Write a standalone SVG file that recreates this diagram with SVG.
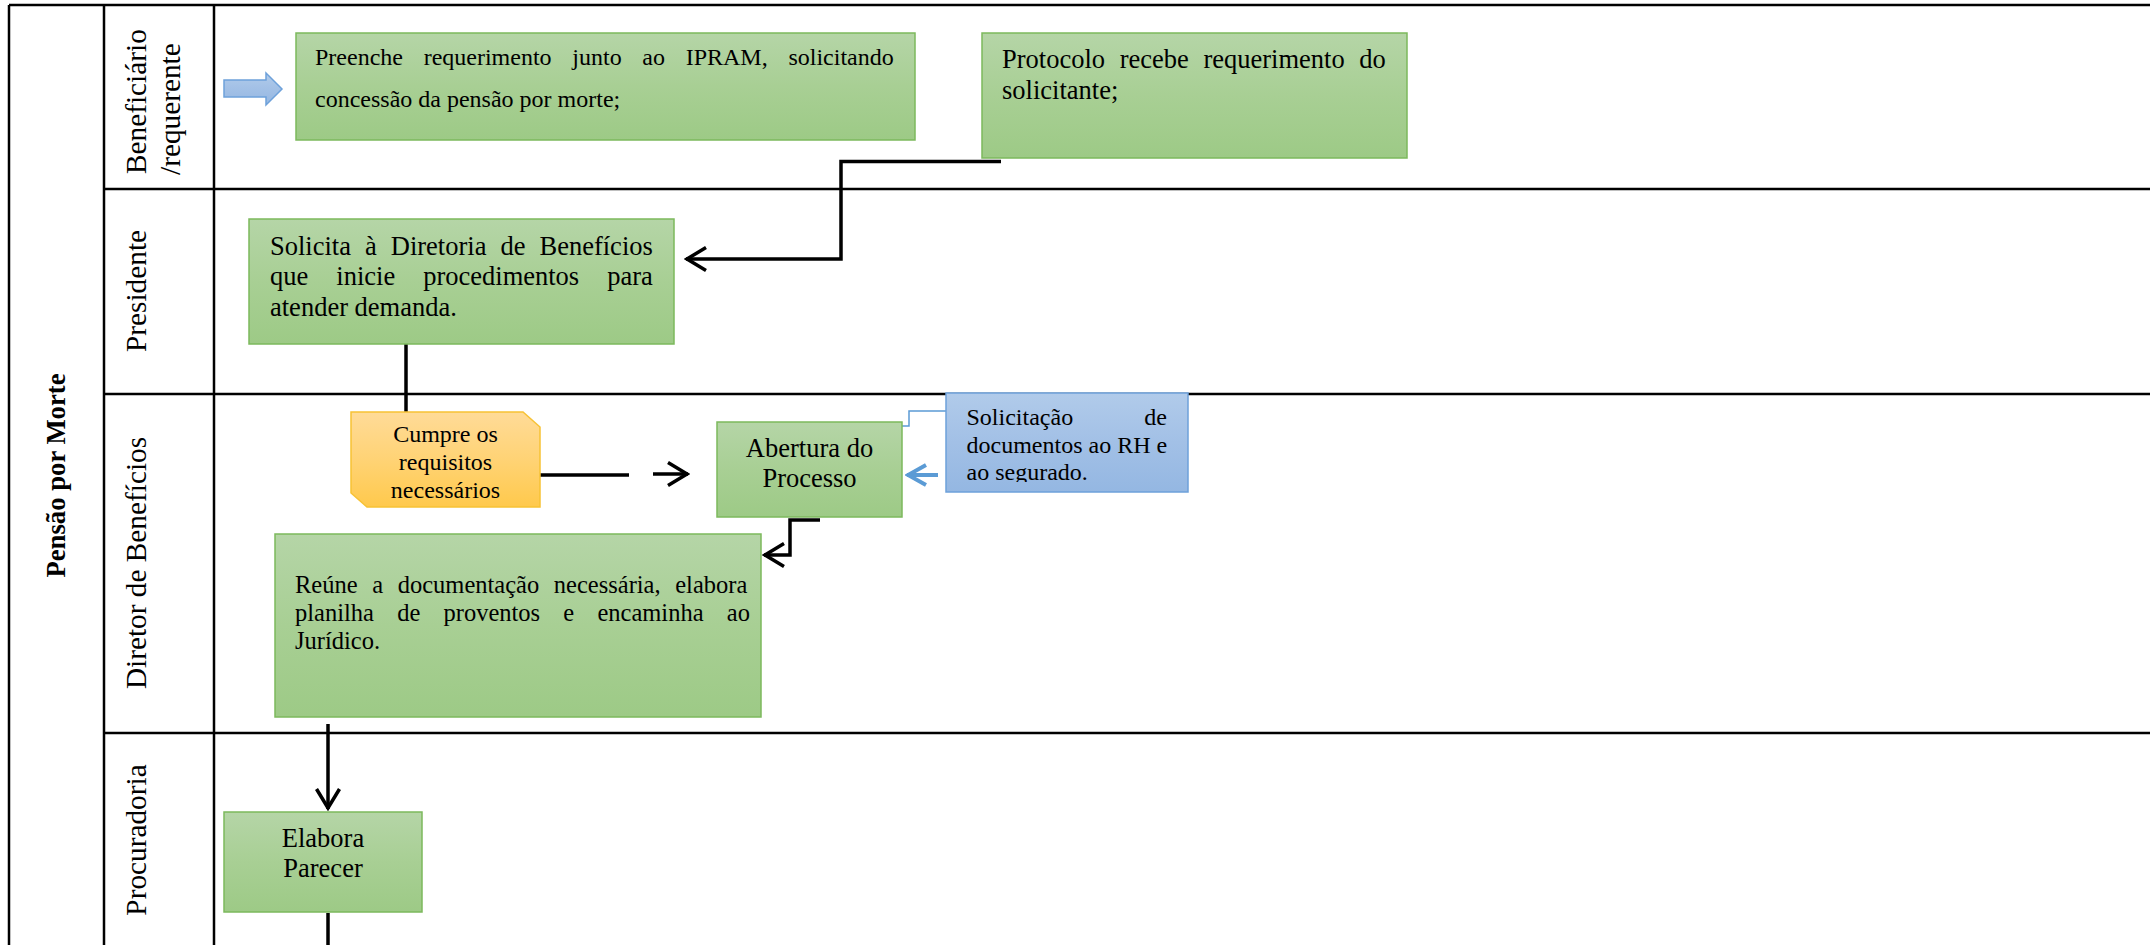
<svg xmlns="http://www.w3.org/2000/svg" width="2150" height="945" viewBox="0 0 2150 945">
  <style>
    .lane { stroke: #000; stroke-width: 2.5; fill: none; }
    .lbl { font-family: "Liberation Serif", "Times New Roman", serif; font-size: 29.3px; fill: #000; }
    .title { font-family: "Liberation Serif", "Times New Roman", serif; font-size: 26.7px; font-weight: bold; fill: #000; }
    .t24 { font-family: "Liberation Serif", "Times New Roman", serif; font-size: 24px; fill: #000; }
    .t26 { font-family: "Liberation Serif", "Times New Roman", serif; font-size: 26.5px; fill: #000; }
    .t245 { font-family: "Liberation Serif", "Times New Roman", serif; font-size: 24.5px; fill: #000; }
    .green { fill: url(#gGreen); stroke: #7cb95c; stroke-width: 1.5; }
    .orange { fill: url(#gOrange); stroke: #f7c235; stroke-width: 1.5; }
    .blue { fill: url(#gBlue); stroke: #6ea1da; stroke-width: 1.5; }
    .conn { stroke: #000; stroke-width: 3.5; fill: none; }
    .connBlue { stroke: #5b9bd5; stroke-width: 4; fill: none; }
    .connThin { stroke: #5b9bd5; stroke-width: 1.5; fill: none; }
  </style>
  <defs>
    <linearGradient id="gGreen" x1="0" y1="0" x2="0" y2="1">
      <stop offset="0" stop-color="#b5d5a7"/>
      <stop offset="0.5" stop-color="#a8cf94"/>
      <stop offset="1" stop-color="#9dca86"/>
    </linearGradient>
    <linearGradient id="gOrange" x1="0" y1="0" x2="0" y2="1">
      <stop offset="0" stop-color="#ffdb98"/>
      <stop offset="0.5" stop-color="#ffd375"/>
      <stop offset="1" stop-color="#ffc94c"/>
    </linearGradient>
    <linearGradient id="gBlue" x1="0" y1="0" x2="0" y2="1">
      <stop offset="0" stop-color="#b1cbea"/>
      <stop offset="0.5" stop-color="#a2c0e6"/>
      <stop offset="1" stop-color="#94b7e2"/>
    </linearGradient>
    <marker id="arrowBlack" markerUnits="userSpaceOnUse" viewBox="0 0 24 26" refX="22" refY="13" markerWidth="24" markerHeight="26" orient="auto">
      <path d="M2,1.5 L21,13 L2,24.5" fill="none" stroke="#000" stroke-width="3.5"/>
    </marker>
    <marker id="arrowBlue" markerUnits="userSpaceOnUse" viewBox="0 0 24 26" refX="22" refY="13" markerWidth="24" markerHeight="26" orient="auto">
      <path d="M3,3 L21,13 L3,23" fill="none" stroke="#5b9bd5" stroke-width="4"/>
    </marker>
    <clipPath id="clipSolic">
      <rect x="946" y="393" width="242" height="89"/>
    </clipPath>
  </defs>

  <rect width="2150" height="945" fill="#fff"/>

  <!-- pool and lane grid -->
  <g id="lanes">
    <line class="lane" x1="9" y1="5" x2="2150" y2="5"/>
    <line class="lane" x1="9" y1="5" x2="9" y2="945"/>
    <line class="lane" x1="104" y1="5" x2="104" y2="945"/>
    <line class="lane" x1="214" y1="5" x2="214" y2="945"/>
    <line class="lane" x1="104" y1="189" x2="2150" y2="189"/>
    <line class="lane" x1="104" y1="394" x2="2150" y2="394"/>
    <line class="lane" x1="104" y1="733" x2="2150" y2="733"/>
    <text class="title" text-anchor="middle" transform="translate(65,475.5) rotate(-90)">Pensão por Morte</text>
    <text class="lbl" transform="translate(146,174) rotate(-90)">Beneficiário</text>
    <text class="lbl" transform="translate(180,175) rotate(-90)">/requerente</text>
    <text class="lbl" text-anchor="middle" transform="translate(145.5,291) rotate(-90)">Presidente</text>
    <text class="lbl" text-anchor="middle" transform="translate(145.5,563) rotate(-90)">Diretor de Benefícios</text>
    <text class="lbl" text-anchor="middle" transform="translate(145.5,840) rotate(-90)">Procuradoria</text>
  </g>

  <!-- connectors -->
  <g id="connectors">
    <path class="conn" d="M1001,161.5 H841 V259 H686" marker-end="url(#arrowBlack)"/>
    <path class="conn" d="M406,344 V412"/>
    <path class="conn" d="M540,475 H629"/>
    <path class="conn" d="M653,474 H688" marker-end="url(#arrowBlack)"/>
    <path class="connThin" d="M946,411 H909 V426 H821"/>
    <path class="connBlue" d="M938,475 H907" marker-end="url(#arrowBlue)"/>
    <path class="conn" d="M820,520 H790 V555 H764" marker-end="url(#arrowBlack)"/>
    <path class="conn" d="M328,724 V809" marker-end="url(#arrowBlack)"/>
    <path class="conn" d="M328,913 V945"/>
  </g>

  <!-- start marker -->
  <g id="start-arrow">
    <polygon class="blue" points="224,80 266,80 266,73 282,89 266,105 266,97 224,97" stroke="#6d9ddb"/>
  </g>

  <g id="preenche">
    <rect class="green" x="296" y="33" width="619" height="107"/>
    <text class="t24" x="315" y="65" word-spacing="14.7">Preenche requerimento junto ao IPRAM, solicitando</text>
    <text class="t24" x="315" y="107">concessão da pensão por morte;</text>
  </g>

  <g id="protocolo">
    <rect class="green" x="982" y="33" width="425" height="125"/>
    <text class="t26" x="1002" y="68" word-spacing="8">Protocolo recebe requerimento do</text>
    <text class="t26" x="1002" y="98.5">solicitante;</text>
  </g>

  <g id="solicita">
    <rect class="green" x="249" y="219" width="425" height="125"/>
    <text class="t26" x="270" y="254.5" word-spacing="7.4">Solicita à Diretoria de Benefícios</text>
    <text class="t26" x="270" y="285" word-spacing="21.4">que inicie procedimentos para</text>
    <text class="t26" x="270" y="315.5">atender demanda.</text>
  </g>

  <g id="cumpre">
    <path class="orange" d="M351,412 H523 L540,427 V507 H367 L351,493 Z"/>
    <text class="t24" text-anchor="middle" x="445.5" y="442">Cumpre os</text>
    <text class="t24" text-anchor="middle" x="445.5" y="469.5">requisitos</text>
    <text class="t24" text-anchor="middle" x="445.5" y="497.5">necessários</text>
  </g>

  <g id="abertura">
    <rect class="green" x="717" y="422" width="185" height="95"/>
    <text class="t26" text-anchor="middle" x="809.5" y="457">Abertura do</text>
    <text class="t26" text-anchor="middle" x="809.5" y="487">Processo</text>
  </g>

  <g id="solicitacao">
    <rect class="blue" x="946" y="393" width="242" height="99"/>
    <g clip-path="url(#clipSolic)">
      <text class="t24" x="966.5" y="425" word-spacing="65">Solicitação de</text>
      <text class="t24" x="966.5" y="452.7">documentos ao RH e</text>
      <text class="t24" x="966.5" y="480">ao segurado.</text>
    </g>
  </g>

  <g id="reune">
    <rect class="green" x="275" y="534" width="486" height="183"/>
    <text class="t245" x="295" y="593" word-spacing="8.5">Reúne a documentação necessária, elabora</text>
    <text class="t245" x="295" y="621" word-spacing="17.1">planilha de proventos e encaminha ao</text>
    <text class="t245" x="295" y="648.5">Jurídico.</text>
  </g>

  <g id="parecer">
    <rect class="green" x="224" y="812" width="198" height="100"/>
    <text class="t26" text-anchor="middle" x="323" y="847">Elabora</text>
    <text class="t26" text-anchor="middle" x="323" y="877">Parecer</text>
  </g>
</svg>
